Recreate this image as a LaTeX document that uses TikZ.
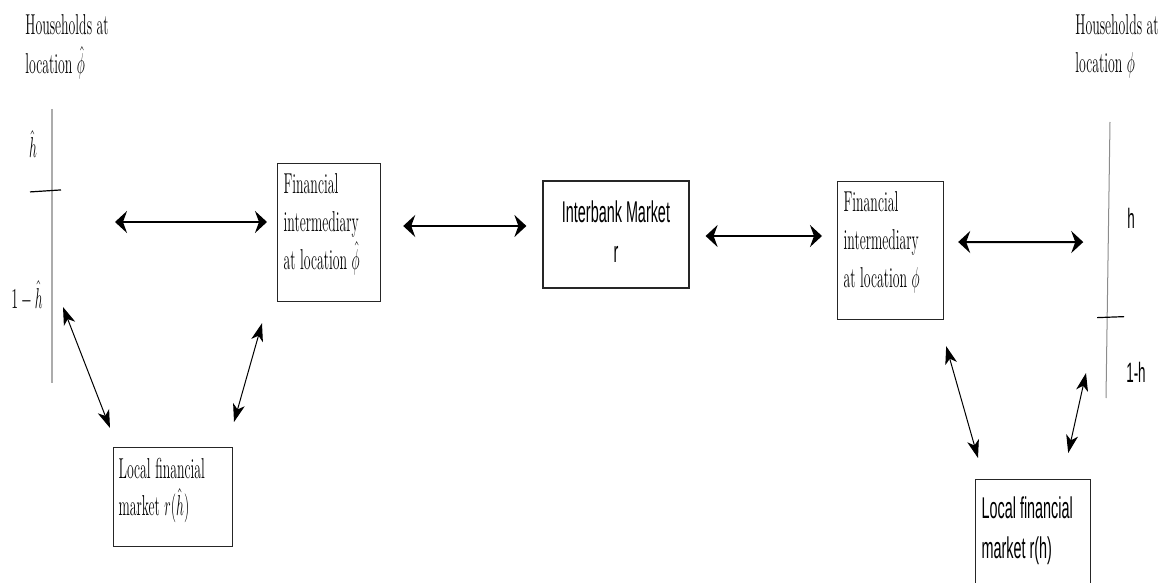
\documentclass[tikz,border=0pt]{standalone}
\usepackage{graphicx}
\usepackage{fontspec}
\setsansfont{Liberation Sans}
\usetikzlibrary{calc,arrows.meta,positioning}

% narrow text, as in the drawing
\newcommand{\sq}[1]{\scalebox{0.48}[1]{#1}}
\newcommand{\lines}[1]{\sq{\begin{tabular}[t]{@{}l@{}}#1\end{tabular}}}
\newcommand{\boxtext}[3]{\sq{\parbox[t][#2][t]{#1}{\raggedright #3}}}

\begin{document}
\begin{tikzpicture}[x=0.5pt,y=-0.5pt,
	house/.style={inner sep=0pt,anchor=base west,font=\fontsize{14.4}{19}\selectfont},
	share/.style={inner sep=0pt,anchor=base,font=\fontsize{14.4}{17.5}\selectfont},
	sharesf/.style={inner sep=0pt,anchor=base,font=\sffamily\fontsize{14}{17}\selectfont},
	inter/.style={rectangle,draw=black!85,line width=0.6pt,anchor=north west,inner xsep=3pt,inner ysep=5pt,font=\fontsize{14.4}{19}\selectfont},
	market/.style={rectangle,draw=black!85,line width=0.6pt,anchor=north west,inner xsep=2.5pt,inner ysep=5.5pt,font=\fontsize{14.4}{18.5}\selectfont},
	bank/.style={rectangle,draw=black!85,line width=0.6pt,minimum width=73pt,minimum height=53.5pt,inner sep=0pt,font=\sffamily\fontsize{15}{20}\selectfont},
	bar/.style={line width=0.7pt},
	notch/.style={line width=0.6pt,black},
	link/.style={<->,line width=1pt,>={Stealth[length=6pt,width=11pt,inset=2pt]}},
	diag/.style={<->,line width=0.5pt,>={Stealth[length=9pt,width=6pt,inset=2.5pt]}}
	]
\useasboundingbox (0,0) rectangle (1169,583);

% households
\node [house] (hhl) at (25,35) {\lines{Households at\\ location $\hat{\phi}$}};
\node [house] (hhr) at (1075,35) {\lines{Households at\\ location $\phi$}};

\coordinate (hl-top) at (52,109);
\coordinate (hl-bot) at (52,383);
\coordinate (hr-top) at (1110,122);
\coordinate (hr-bot) at (1106,398);
\draw [bar, gray!65] (hl-top) -- (hl-bot);
\draw [bar, gray!90, line width=0.5pt] (hr-top) -- (hr-bot);
\draw [notch] ($(hl-top)!0.299!(hl-bot)$) ++(-22,1) -- ++(31,-2);
\draw [notch] ($(hr-top)!0.707!(hr-bot)$) ++(-10,0.5) -- ++(27,-1);

\node [share] (hh) at (33,158) {\sq{$\hat{h}$}};
\node [share] (hh1) at (27,308) {\sq{$1-\hat{h}$}};
\node [sharesf] (h) at (1131,228) {\sq{h}};
\node [sharesf] (h1) at (1136,382) {\sq{1-h}};

% intermediaries and markets
\node [inter] (fil) at (277,163) {\boxtext{94.8pt}{59pt}{Financial\\ intermediary\\ at location $\hat{\phi}$}};
\node [inter] (fir) at (837,181) {\boxtext{97.9pt}{59pt}{Financial\\ intermediary\\ at location $\phi$}};
\node [bank] (ib) at (616,234.5) {\sq{\begin{tabular}{@{}c@{}}Interbank Market\\ r\end{tabular}}};
\node [market] (lfl) at (113,447) {\boxtext{113.5pt}{38.5pt}{Local financial\\ market $r(\hat{h})$}};
\node [market, inner xsep=3pt, inner ysep=8.8pt, font=\sffamily\fontsize{15}{20}\selectfont] (lfr) at (975,479) {\boxtext{107.3pt}{43pt}{Local financial\\ market r(h)}};

% horizontal links
\draw [link, shorten <=31.5pt, shorten >=5pt] (hl-top |- 0,222) -- (fil.west |- 0,222);
\draw [link, shorten <=11pt, shorten >=8pt] (fil.east |- 0,226) -- (ib.west |- 0,226);
\draw [link, shorten <=8pt, shorten >=7.5pt] (ib.east |- 0,236) -- (fir.west |- 0,236);
\draw [link, shorten <=7pt, shorten >=12.5pt] (fir.east |- 0,242) -- ($(hr-top)!0.435!(hr-bot)$);

% links to the local markets
\draw [diag] ([shift={(11,-76)}]hl-bot) -- ([shift={(-3,-19)}]lfl.north west);
\draw [diag] ([shift={(-15,21)}]fil.south west) -- ([shift={(121,-25)}]lfl.north west);
\draw [diag] ([shift={(2,26)}]fir.south east) -- ([shift={(3,-21)}]lfr.north west);
\draw [diag] ([shift={(-20,-25)}]hr-bot) -- ([shift={(-23,-26)}]lfr.north east);
\end{tikzpicture}
\end{document}
